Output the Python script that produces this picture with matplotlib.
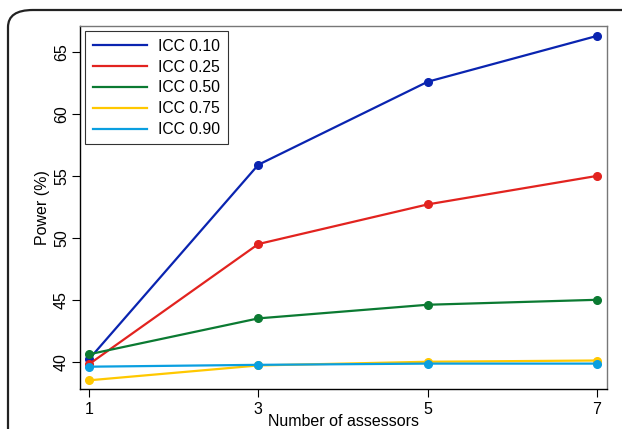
import matplotlib
matplotlib.use("Agg")
import matplotlib.pyplot as plt
from matplotlib.patches import FancyBboxPatch

plt.rcParams["font.family"] = ["Liberation Sans", "DejaVu Sans"]

assessors = [1, 3, 5, 7]
icc_010 = [40.2, 55.9, 62.6, 66.3]
icc_025 = [39.8, 49.5, 52.7, 55.0]
icc_050 = [40.6, 43.5, 44.6, 45.0]
icc_075 = [38.5, 39.7, 40.0, 40.1]
icc_090 = [39.6, 39.75, 39.85, 39.85]

series = [
    ("ICC 0.10", icc_010, "#0a24b0"),
    ("ICC 0.25", icc_025, "#e2231f"),
    ("ICC 0.50", icc_050, "#0b7a32"),
    ("ICC 0.75", icc_075, "#ffc800"),
    ("ICC 0.90", icc_090, "#0a9fe0"),
]

fig = plt.figure(figsize=(6.22, 4.29), dpi=100)

# rounded outer frame (runs off the right and bottom edges)
frame = FancyBboxPatch((8 / 622, -0.2), 1.2, 1.2 - 10 / 429,
                       boxstyle="round,pad=0,rounding_size=0.04",
                       transform=fig.transFigure, fill=False,
                       edgecolor="#222222", linewidth=1.6, clip_on=False)
fig.patches.append(frame)

ax = fig.add_axes([80 / 622, 40 / 429, 527 / 622, 363 / 429])

for label, vals, col in series:
    ax.plot(assessors, vals, color=col, lw=1.6, marker="o", ms=5.5,
            label=label, clip_on=False)

ax.set_xlim(0.894, 7.118)
ax.set_ylim(37.8, 67.1)
ax.set_xticks(assessors)
ax.set_yticks([40, 45, 50, 55, 60, 65])
ax.tick_params(labelsize=11.5, length=6, width=0.8, colors="black")
ax.tick_params(axis="y", pad=2)
ax.tick_params(axis="x", pad=3)
for t in ax.get_yticklabels():
    t.set_rotation(90)
    t.set_va("center")

ax.spines["left"].set_color("black")
ax.spines["bottom"].set_color("black")
ax.spines["top"].set_color("#777777")
ax.spines["right"].set_color("#777777")
for s in ax.spines.values():
    s.set_linewidth(1.0)

ax.set_xlabel("Number of assessors", fontsize=11.5, labelpad=-1.5)
ax.set_ylabel("Power (%)", fontsize=11.5, labelpad=3)

leg = ax.legend(loc="upper left", fontsize=11.3, frameon=True, fancybox=False,
                edgecolor="black", handlelength=3.5, handletextpad=0.7,
                labelspacing=0.38, borderpad=0.45, borderaxespad=0.35)
leg.get_frame().set_linewidth(0.8)
for h in leg.get_lines():
    h.set_marker("")

fig.savefig("out.png", dpi=100)
